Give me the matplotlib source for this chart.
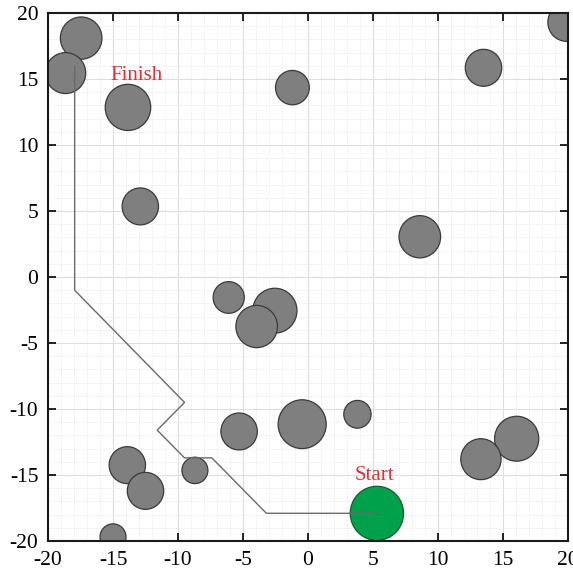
import numpy as np
import matplotlib
matplotlib.use("Agg")
import matplotlib.pyplot as plt
from matplotlib.patches import Circle
from matplotlib.ticker import MultipleLocator

plt.rcParams['font.family'] = ['Liberation Serif', 'DejaVu Serif']
plt.rcParams['axes.unicode_minus'] = False

# obstacles: centre x, centre y, radius
obs_x = [-17.45, -18.65, -13.85, -1.2, 13.5, 19.9, -12.9, 8.6, -6.1,
         -2.55, -3.95, -0.45, -5.3, 3.8, 16.05, 13.3, -13.9, -12.5, -8.7, -15.0]
obs_y = [18.1, 15.45, 12.85, 14.35, 15.85, 19.3, 5.35, 3.05, -1.55,
         -2.55, -3.75, -11.15, -11.7, -10.4, -12.25, -13.8, -14.25, -16.2, -14.65, -19.7]
obs_r = [1.6, 1.55, 1.75, 1.3, 1.4, 1.45, 1.4, 1.6, 1.2,
         1.7, 1.6, 1.85, 1.4, 1.05, 1.7, 1.55, 1.4, 1.4, 1.0, 1.0]

start = (5.3, -17.9)
start_r = 2.05

# planned path, start -> finish
path_x = [5.3, -3.2, -7.4, -9.5, -11.6, -9.5, -17.95, -17.95]
path_y = [-17.9, -17.9, -13.7, -13.7, -11.6, -9.5, -1.0, 16.0]

fig = plt.figure(figsize=(5.73, 5.71), dpi=100)
ax = fig.add_axes([0.0838, 0.0525, 0.9075, 0.9247])

for x, y, r in zip(obs_x, obs_y, obs_r):
    ax.add_patch(Circle((x, y), r, facecolor='#7f7f7f', edgecolor='#3a3a3a',
                        linewidth=0.9, zorder=2))
ax.add_patch(Circle(start, start_r, facecolor='#00a14b', edgecolor='#1a5a30',
                    linewidth=0.9, zorder=2))

ax.plot(path_x, path_y, color='#6a6a6a', linewidth=1.0, zorder=3)

ax.text(-13.2, 15.3, 'Finish', color='#ee2a35', fontsize=15,
        ha='center', va='center', zorder=4)
ax.text(5.1, -15.0, 'Start', color='#ee2a35', fontsize=15,
        ha='center', va='center', zorder=4)

ax.set_xlim(-20, 20)
ax.set_ylim(-20, 20)
ax.xaxis.set_major_locator(MultipleLocator(5))
ax.yaxis.set_major_locator(MultipleLocator(5))
ax.xaxis.set_minor_locator(MultipleLocator(1))
ax.yaxis.set_minor_locator(MultipleLocator(1))
ax.grid(True, which='major', color='#dedede', linewidth=0.8, zorder=0)
ax.grid(True, which='minor', color='#e8e8e8', linewidth=0.6, linestyle=(0, (1.5, 1.5)), zorder=0)
ax.set_axisbelow(True)
ax.tick_params(which='major', direction='in', length=6, width=1.2,
               top=True, right=True, labelsize=15.5, pad=7)
ax.tick_params(which='minor', length=0)
for s in ax.spines.values():
    s.set_linewidth(1.5)
    s.set_color('#1a1a1a')

fig.savefig('out.png', dpi=100)
